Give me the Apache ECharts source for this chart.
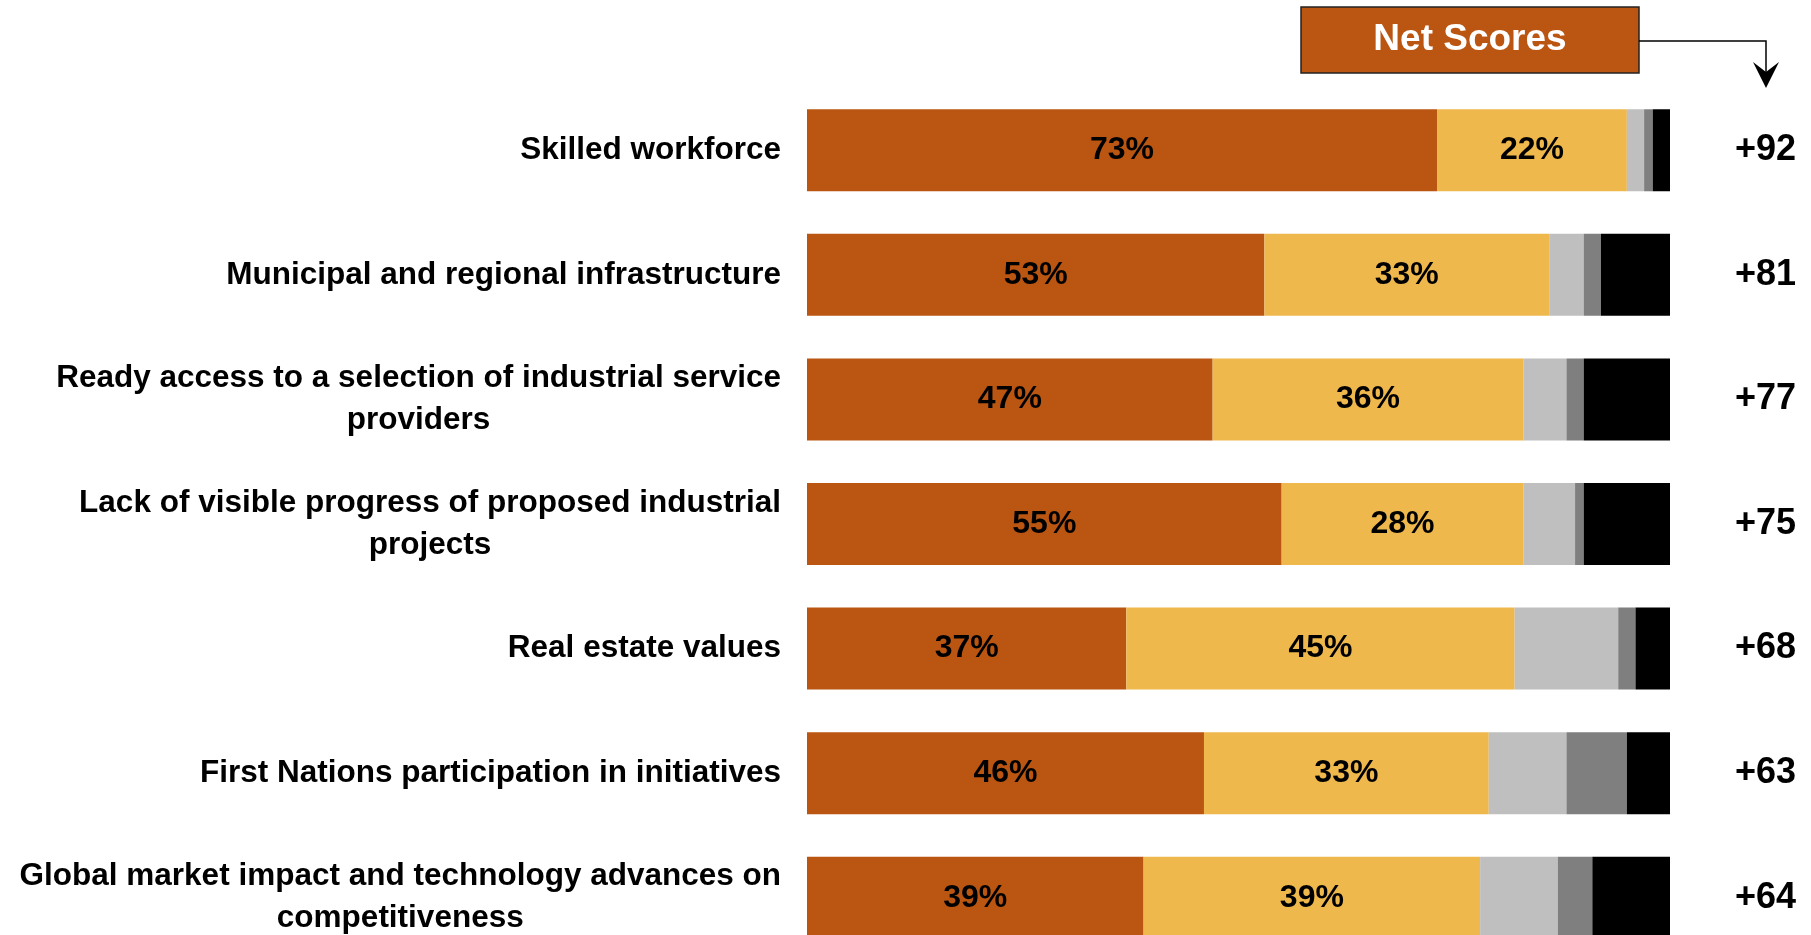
<!DOCTYPE html>
<html>
<head>
<meta charset="utf-8">
<script src="https://cdn.jsdelivr.net/npm/echarts@6/dist/echarts.min.js"></script>
<style>
  html, body { margin: 0; padding: 0; background: #fff; }
  #chart { width: 1811px; height: 935px; }
</style>
</head>
<body>
<div id="chart"></div>
<script>
// rows, top to bottom
const categories = [
    'Skilled workforce',
    'Municipal and regional infrastructure',
    'Ready access to a selection of industrial service\nproviders',
    'Lack of visible progress of proposed industrial\nprojects',
    'Real estate values',
    'First Nations participation in initiatives',
    'Global market impact and technology advances on\ncompetitiveness'
];
const brownVals  = [73, 53, 47, 55, 37, 46, 39];
const yellowVals = [22, 33, 36, 28, 45, 33, 39];
const lightVals  = [2, 4, 5, 6, 12, 9, 9];
const midVals    = [1, 2, 2, 1, 2, 7, 4];
const blackVals  = [2, 8, 10, 10, 4, 5, 9];
const netScores  = ['+92', '+81', '+77', '+75', '+68', '+63', '+64'];

const FONT = "'Liberation Sans', Arial, sans-serif";
const BROWN = '#BA5611';

const chart = echarts.init(document.getElementById('chart'));

function seg(name, data, color, labelOn) {
    return {
        name: name,
        type: 'bar',
        stack: 'total',
        barWidth: 82,
        data: data,
        itemStyle: { color: color },
        silent: true,
        label: {
            show: labelOn,
            position: 'inside',
            formatter: '{c}%',
            fontFamily: FONT,
            fontSize: 32,
            fontWeight: 'bold',
            color: '#000'
        }
    };
}

const blackSeries = seg('black', blackVals, '#000000', false);
blackSeries.label = {
    show: true,
    position: 'right',
    distance: 65,
    formatter: p => netScores[p.dataIndex],
    fontFamily: FONT,
    fontSize: 36,
    fontWeight: 'bold',
    color: '#000'
};

chart.setOption({
    animation: false,
    // last row runs past the bottom edge, as in the original crop
    grid: {
        left: 807, right: 141, top: 88, height: 872,
        containLabel: false,
        outerBoundsMode: 'none'
    },
    xAxis: { type: 'value', min: 0, max: 100, show: false },
    yAxis: {
        type: 'category',
        data: categories,
        inverse: true,
        axisLine: { show: false },
        axisTick: { show: false },
        axisLabel: {
            margin: 26,
            formatter: v => v.split('\n').map(s => '{c|' + s + '}').join('\n'),
            rich: {
                c: {
                    align: 'center',
                    fontFamily: FONT,
                    fontSize: 31.5,
                    fontWeight: 'bold',
                    lineHeight: 42,
                    color: '#000'
                }
            }
        }
    },
    series: [
        seg('brown', brownVals, BROWN, true),
        seg('yellow', yellowVals, '#EEB84C', true),
        seg('light', lightVals, '#BFBFBF', false),
        seg('mid', midVals, '#7F7F7F', false),
        blackSeries
    ],
    graphic: [
        {
            type: 'rect',
            shape: { x: 1301, y: 7, width: 338, height: 66 },
            style: { fill: BROWN, stroke: '#222', lineWidth: 1.5 }
        },
        {
            type: 'text',
            x: 1470, y: 40,
            style: {
                text: 'Net Scores',
                fill: '#fff',
                font: 'bold 37px ' + FONT,
                align: 'center',
                verticalAlign: 'middle'
            }
        },
        {
            type: 'polyline',
            shape: { points: [[1639, 41], [1766, 41], [1766, 74]] },
            style: { stroke: '#000', lineWidth: 1.5, fill: null }
        },
        {
            type: 'polygon',
            shape: { points: [[1753, 62], [1766, 72], [1779, 62], [1766, 88]] },
            style: { fill: '#000' }
        }
    ]
});
</script>
</body>
</html>
